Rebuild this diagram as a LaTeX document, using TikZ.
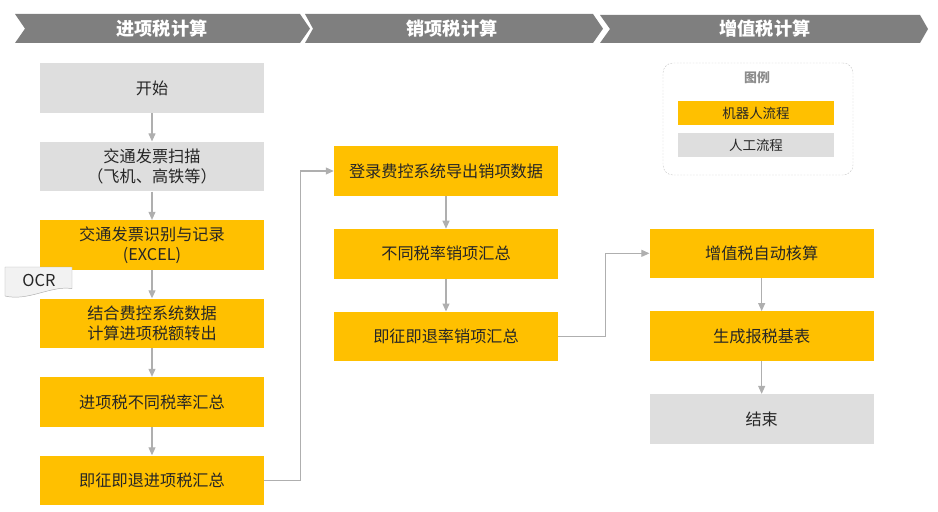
\documentclass[tikz,border=0pt]{standalone}
\usepackage{fontspec}
\setmainfont{Noto Sans CJK SC}
\usetikzlibrary{arrows.meta,positioning}
\definecolor{robotyellow}{HTML}{FFC000}
\definecolor{manualgray}{HTML}{DEDEDE}
\definecolor{bannergray}{HTML}{7F7F7F}
\definecolor{linegray}{HTML}{AFAFAF}
\definecolor{tabgray}{HTML}{F2F2F2}
\definecolor{inkgray}{HTML}{262626}

\begin{document}
\begin{tikzpicture}[
  node distance=8.5mm,
  robotbox/.style={rectangle, fill=robotyellow, minimum width=67.2mm, minimum height=14.9mm,
                   inner sep=0pt, align=center, text=inkgray, font=\fontsize{13.8}{16.8}\selectfont},
  manualbox/.style={robotbox, fill=manualgray},
  legendbar/.style={rectangle, minimum width=46.8mm, minimum height=7.2mm, inner sep=0pt,
                    text=inkgray, font=\fontsize{11.5}{14}\selectfont},
  banner/.style={fill=bannergray},
  hdr/.style={text=white, font=\fontsize{15.5}{18}\selectfont\bfseries},
  arrow/.style={-{Triangle[length=2.4mm,width=2.1mm]}, line width=0.9pt, draw=linegray}
]
  \useasboundingbox (0,0) rectangle (28.14,-15.36);

  % phase banners
  \fill[banner] (0.45,-0.42) -- (9.0,-0.42) -- (9.3,-0.86) -- (9.0,-1.29) -- (0.45,-1.29) -- (0.75,-0.86) -- cycle;
  \fill[banner] (9.15,-0.42) -- (17.79,-0.42) -- (18.09,-0.86) -- (17.79,-1.29) -- (9.15,-1.29) -- (9.39,-0.86) -- cycle;
  \fill[banner] (18.0,-0.45) -- (27.6,-0.45) -- (27.84,-0.87) -- (27.6,-1.29) -- (18.0,-1.29) -- (18.3,-0.87) -- cycle;
  \node[hdr] (hdrin) at (4.86,-0.86) {进项税计算};
  \node[hdr] (hdrout) at (13.56,-0.86) {销项税计算};
  \node[hdr] (hdrvat) at (22.95,-0.87) {增值税计算};

  % input tax column
  \node[manualbox] (start) at (4.56,-2.64) {开始};
  \node[manualbox, below=of start] (scan) {交通发票扫描\\（飞机、高铁等）};
  \node[robotbox, below=of scan] (record) {交通发票识别与记录\\(EXCEL)};
  \node[robotbox, below=of record] (transfer) {结合费控系统数据\\计算进项税额转出};
  \node[robotbox, below=of transfer] (insum) {进项税不同税率汇总};
  \node[robotbox, below=of insum] (inrefund) {即征即退进项税汇总};

  % output tax column
  \node[robotbox] (export) at (13.38,-5.13) {登录费控系统导出销项数据};
  \node[robotbox, below=0.98cm of export] (outsum) {不同税率销项汇总};
  \node[robotbox, below=0.98cm of outsum] (outrefund) {即征即退率销项汇总};

  % VAT column
  \node[robotbox] (vatcalc) at (22.85,-7.6) {增值税自动核算};
  \node[robotbox, below=0.98cm of vatcalc] (taxsheet) {生成报税基表};
  \node[manualbox, below=0.98cm of taxsheet] (finish) {结束};

  \draw[arrow] (start) -- (scan);
  \draw[arrow] (scan) -- (record);
  \draw[arrow] (record) -- (transfer);
  \draw[arrow] (transfer) -- (insum);
  \draw[arrow] (insum) -- (inrefund);
  \draw[arrow] (inrefund.east) -- ++(1.08,0) |- (export.west);
  \draw[arrow] (export) -- (outsum);
  \draw[arrow] (outsum) -- (outrefund);
  \draw[arrow] (outrefund.east) -- ++(1.41,0) |- (vatcalc.west);
  \draw[arrow] (vatcalc) -- (taxsheet);
  \draw[arrow] (taxsheet) -- (finish);

  % OCR tag
  \filldraw[fill=tabgray, draw=linegray, line width=0.4pt]
    (0.15,-8.01) -- (2.16,-8.01) -- (2.16,-8.66)
    .. controls (1.55,-8.55) and (0.85,-9.05) .. (0.15,-8.88) -- cycle;
  \node[text=inkgray, font=\fontsize{14}{16}\selectfont] (ocr) at (1.17,-8.42) {OCR};

  % legend
  \node[draw=black!22, dash pattern=on 1.5pt off 1.2pt, rounded corners=3mm,
        minimum width=57mm, minimum height=33.6mm] (legend) at (22.74,-3.57) {};
  \node[text=black!45, font=\fontsize{11}{13}\selectfont\bfseries] (legendtitle) at (22.71,-2.34) {图例};
  \node[legendbar, fill=robotyellow] (legrobot) at (22.68,-3.39) {机器人流程};
  \node[legendbar, fill=manualgray] (legmanual) at (22.68,-4.35) {人工流程};
\end{tikzpicture}
\end{document}
